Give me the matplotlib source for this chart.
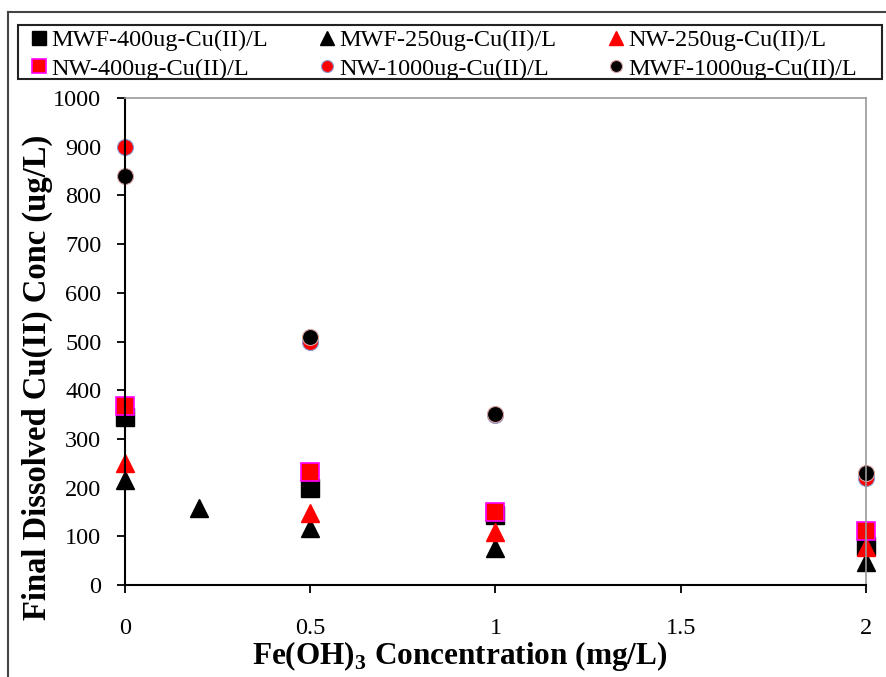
import matplotlib
matplotlib.use("Agg")
import matplotlib.pyplot as plt
from matplotlib.lines import Line2D
from matplotlib.patches import Rectangle

plt.rcParams['font.family'] = ['Liberation Serif', 'DejaVu Serif']
plt.rcParams['mathtext.fontset'] = 'custom'
plt.rcParams['mathtext.rm'] = 'Liberation Serif'
plt.rcParams['mathtext.bf'] = 'Liberation Serif:bold'

# Data
x_mwf400 = [0, 0.5, 1, 2]
y_mwf400 = [345, 199, 143, 80]
x_mwf250 = [0, 0.2, 0.5, 1, 2]
y_mwf250 = [215, 158, 117, 77, 47]
x_nw250 = [0, 0.5, 1, 2]
y_nw250 = [250, 148, 109, 78]
x_nw400 = [0, 0.5, 1, 2]
y_nw400 = [368, 232, 150, 111]
x_nw1000 = [0, 0.5, 1, 2]
y_nw1000 = [900, 500, 350, 220]
x_mwf1000 = [0, 0.5, 1, 2]
y_mwf1000 = [840, 509, 351, 230]

labels = ["MWF-400ug-Cu(II)/L", "MWF-250ug-Cu(II)/L", "NW-250ug-Cu(II)/L",
          "NW-400ug-Cu(II)/L", "NW-1000ug-Cu(II)/L", "MWF-1000ug-Cu(II)/L"]
xticks = [0, 0.5, 1, 1.5, 2]
xticklabels = ["0", "0.5", "1", "1.5", "2"]
yticks = list(range(0, 1001, 100))

W, H = 887, 677
fig = plt.figure(figsize=(W / 100, H / 100), dpi=100)
ax = fig.add_axes([125 / W, 1 - 585 / H, (866 - 125) / W, (585 - 98) / H])

h1, = ax.plot(x_mwf400, y_mwf400, ls='none', marker='s', ms=13.5, mfc='black', mec='black', clip_on=False, label=labels[0])
h2, = ax.plot(x_mwf250, y_mwf250, ls='none', marker='^', ms=13.5, mfc='black', mec='black', clip_on=False, label=labels[1])
h3, = ax.plot(x_nw250, y_nw250, ls='none', marker='^', ms=13.5, mfc='red', mec='red', clip_on=False, label=labels[2])
h4, = ax.plot(x_nw400, y_nw400, ls='none', marker='s', ms=13.5, mfc='red', mec='magenta', mew=1.2, clip_on=False, label=labels[3])
h5, = ax.plot(x_nw1000, y_nw1000, ls='none', marker='o', ms=11.5, mfc='red', mec='#8a9ad0', mew=0.8, clip_on=False, label=labels[4])
h6, = ax.plot(x_mwf1000, y_mwf1000, ls='none', marker='o', ms=11.5, mfc='black', mec='#d8a0a0', mew=0.8, clip_on=False, label=labels[5])

ax.set_xlim(0, 2)
ax.set_ylim(0, 1000)
ax.set_xticks(xticks)
ax.set_xticklabels(xticklabels)
ax.set_yticks(yticks)
ax.tick_params(axis='both', labelsize=17.5, direction='out', length=6, width=1.3, colors='black')
ax.tick_params(axis='x', pad=18)
ax.tick_params(axis='y', pad=11)

for s in ['left', 'bottom']:
    ax.spines[s].set_color('black')
    ax.spines[s].set_linewidth(1.5)
for s in ['top', 'right']:
    ax.spines[s].set_color('#999999')
    ax.spines[s].set_linewidth(1.2)

ax.set_ylabel("Final Dissolved Cu(II) Conc (ug/L)", fontsize=23.5, fontweight='bold')
ax.yaxis.set_label_coords((53 - 125) / 741, (585 - 377) / 487)
ax.set_xlabel(r"Fe(OH)$_\mathbf{3}$ Concentration (mg/L)", fontsize=22.5, fontweight='bold')
ax.xaxis.set_label_coords((460 - 125) / 741, (585 - 639) / 487)

# legend: row-major order in reference -> column-major for matplotlib
handles = [h1, h4, h2, h5, h3, h6]
leg_labels = [labels[0], labels[3], labels[1], labels[4], labels[2], labels[5]]
leg = fig.legend(handles, leg_labels, loc='upper left', ncol=3,
                 bbox_to_anchor=(30.5 / W, 1 - 29 / H),
                 borderaxespad=0, borderpad=0, fontsize=17.5, markerscale=0.75,
                 handlelength=0.7, handletextpad=0.15, columnspacing=2.1,
                 labelspacing=0.28, frameon=False)
fig.add_artist(Rectangle((18 / W, 1 - 79 / H), (882 - 18) / W, (79 - 25) / H,
                         transform=fig.transFigure, fill=False, edgecolor='#222222', lw=1.5))

# outer frame
fig.add_artist(Line2D([8 / W, 8 / W], [0, 1 - 12 / H], transform=fig.transFigure, color='#444444', lw=1.5))
fig.add_artist(Line2D([8 / W, 1], [1 - 12 / H, 1 - 12 / H], transform=fig.transFigure, color='#444444', lw=1.5))

fig.savefig("out.png", dpi=100)
